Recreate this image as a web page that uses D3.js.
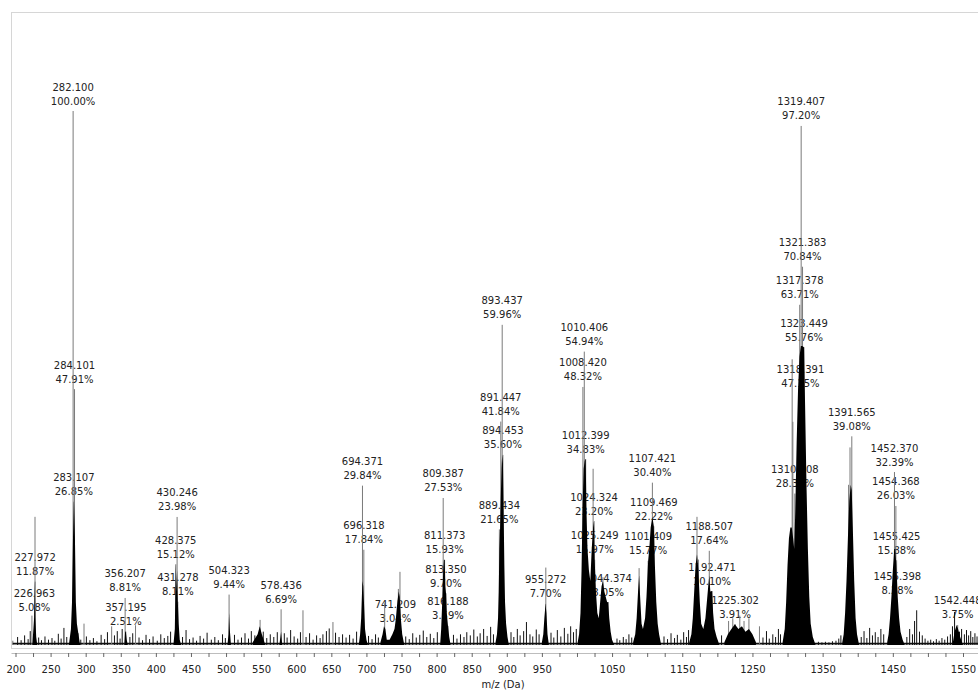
<html lang="en">
<head>
  <meta charset="UTF-8">
  <title>Mass spectrum</title>
  <script src="https://d3js.org/d3.v7.min.js"></script>
</head>
<style>
  body { margin: 0; background: #fff; }
  text { font-family: "DejaVu Sans", Verdana, sans-serif; font-size: 10px; fill: #222; }
  .tick line { stroke: #666; }
</style>
<body>
  <svg class="spectrum" width="978" height="693"></svg>
  <script>
    // labelled peaks: m/z text and relative intensity (%)
    const labelMz = ['226.963', '227.972', '282.100', '283.107', '284.101', '356.207', '357.195',
      '428.375', '430.246', '431.278', '504.323', '578.436', '694.371', '696.318', '741.209',
      '809.387', '811.373', '813.350', '816.188', '889.434', '891.447', '893.437', '894.453',
      '955.272', '1008.420', '1010.406', '1012.399', '1024.324', '1025.249', '1044.374',
      '1101.409', '1107.421', '1109.469', '1188.507', '1192.471', '1225.302', '1310.408',
      '1317.378', '1318.391', '1319.407', '1321.383', '1323.449', '1391.565', '1452.370',
      '1454.368', '1455.425', '1456.398', '1542.448'];
    const labelPct = [5.08, 11.87, 100.00, 26.85, 47.91, 8.81, 2.51,
      15.12, 23.98, 8.11, 9.44, 6.69, 29.84, 17.84, 3.04,
      27.53, 15.93, 9.70, 3.59, 21.65, 41.84, 59.96, 35.60,
      7.70, 48.32, 54.94, 34.83, 23.20, 15.97, 8.05,
      15.77, 30.40, 22.22, 17.64, 10.10, 3.91, 28.36,
      63.71, 47.15, 97.20, 70.84, 55.76, 39.08, 32.39,
      26.03, 15.88, 8.28, 3.75];

    // unlabelled thin spikes [m/z, %]
    const spikes = [[223.4, 5.5], [227.8, 24], [297.6, 4], [337, 3.5], [371, 3.7], [548.5, 4.7],
      [609.6, 6.5], [652.3, 4.3], [726, 7.8], [745.5, 10.5], [747.8, 13.7], [955.6, 14.5],
      [1023, 33], [1037, 12.7], [1088.5, 14.4], [1105, 20], [1171, 24], [1173, 16],
      [1216, 4.5], [1222, 5], [1232, 5.5], [1238, 4.5], [1245, 5], [1260, 3.5],
      [1306.6, 53.5], [1307.6, 41.8], [1387, 30], [1389, 37]];

    // dense isotope clusters, envelope points [m/z, %]
    const clusters = [
      [[224, 0], [225.5, 3], [226.5, 5], [227.5, 11.8], [228.3, 5], [229.5, 1.5], [231, 0]],
      [[276, 0], [279, 3], [280.5, 8], [281.9, 20], [283.3, 26.85], [284.7, 20], [286, 8], [287.5, 4], [290.3, 1.5], [292, 0]],
      [[355, 0], [356.2, 2.5], [357.2, 2.51], [358.5, 1], [360, 0]],
      [[425, 0], [427, 3], [428.4, 15.12], [429.5, 10], [430.2, 14], [431.3, 8.11], [432.5, 4], [434, 1], [436, 0]],
      [[502, 0], [503.5, 2], [504.3, 6], [505.3, 3], [507, 0]],
      [[538, 0.5], [545, 2], [548, 3.5], [551, 2], [556, 0]],
      [[576, 0], [578.4, 2.5], [580, 0]],
      [[689, 0], [691, 2], [692.5, 5], [693.5, 9], [694.3, 12], [695.5, 11], [696.5, 8], [698, 3], [700, 1], [702, 0]],
      [[720, 0.5], [723, 2], [725, 3.5], [727, 3], [729, 1], [733, 1], [737, 2], [740, 3], [742, 5], [744, 8], [746, 10], [747.5, 9], [749, 5], [751, 2], [754, 0]],
      [[805, 0], [806.5, 3], [808, 8], [809.4, 14], [810.5, 16], [811.5, 15.93], [812.5, 11], [813.4, 9.7], [814.5, 6], [816.2, 3.59], [818, 1.5], [820, 0]],
      [[884, 0.5], [886, 2], [887.5, 5], [888.5, 10], [889.4, 18], [890.5, 22], [891.5, 28], [892.5, 33], [893.4, 35.6], [894.5, 34], [895.5, 25], [896.5, 15], [897.5, 8], [899, 4], [901, 1.5], [903, 0]],
      [[950, 0.5], [952, 2], [953.5, 5], [955.2, 7.7], [956.5, 6], [958, 2], [960, 0]],
      [[1001, 0.5], [1003, 2], [1005, 6], [1006.5, 14], [1008, 26], [1009.5, 33], [1011, 34.5], [1012.4, 34.83], [1013.5, 25], [1015, 18], [1017, 14], [1019, 12], [1021, 18], [1023, 22], [1024.3, 23.2], [1025.2, 16], [1027, 10], [1029, 6], [1031, 5], [1033, 8], [1035, 11], [1037, 12], [1039, 10], [1041, 9], [1043, 8], [1044.4, 8.05], [1046, 5], [1048, 2.5], [1050, 1], [1053, 0]],
      [[1080, 0.5], [1083, 2], [1085, 5], [1087, 10], [1088.5, 13], [1090, 9], [1092, 4], [1094, 3], [1097, 5], [1099, 9], [1101.4, 15.77], [1103, 18], [1105, 22], [1107.4, 24], [1109.5, 22.22], [1111, 15], [1113, 8], [1115, 4], [1117, 2], [1120, 0]],
      [[1160, 0.5], [1163, 2], [1165, 5], [1167, 10], [1169, 15], [1171, 17], [1173, 14], [1175, 8], [1177, 4], [1180, 3], [1183, 5], [1185, 8], [1187, 11], [1188.5, 13], [1190, 10], [1192.5, 10.1], [1194, 6], [1196, 3], [1199, 1.5], [1203, 0]],
      [[1210, 0.5], [1215, 2], [1220, 3], [1225, 3.9], [1230, 3], [1235, 3.5], [1240, 2.5], [1245, 3], [1250, 2], [1255, 0.5]],
      [[1293, 0.5], [1296, 3], [1298, 8], [1300, 15], [1302, 20], [1304, 22], [1306, 22], [1308, 20], [1309.5, 18], [1311, 25], [1313, 38], [1315, 48], [1317, 54], [1319, 56], [1321, 56], [1323.4, 55.76], [1325, 45], [1327, 30], [1329, 18], [1331, 9], [1333, 4], [1336, 1.5], [1340, 0]],
      [[1378, 0.5], [1380, 2], [1382, 6], [1384, 12], [1386, 20], [1388, 27], [1390, 30], [1391.5, 29], [1393, 22], [1395, 12], [1397, 5], [1399, 2], [1402, 0]],
      [[1442, 0.5], [1444, 2], [1446, 5], [1448, 9], [1450, 14], [1452, 18], [1453.5, 18], [1455, 15], [1457, 9], [1459, 5], [1461, 2.5], [1464, 1], [1467, 0]],
      [[1535, 0], [1538, 2.5], [1541, 3.75], [1543, 3], [1546, 1.5], [1550, 0]]
    ];

    // baseline noise sticks [m/z, %]
    const noise = [[190, 1.2], [196, 0.8], [203, 1.5], [208, 0.9], [213, 1.8], [218, 1.1], [221, 2.6], [233, 1.4],
      [237, 0.9], [242, 1.6], [247, 1.0], [252, 1.3], [256, 0.8], [261, 2.1], [265, 1.2], [269, 3.2], [273, 1.5],
      [289, 2.2], [293, 1.0], [301, 1.6], [306, 0.9], [311, 1.3], [316, 0.7], [322, 1.9], [327, 1.1], [331, 2.4],
      [341, 1.8], [345, 2.6], [349, 1.2], [352, 3.0], [363, 1.5], [367, 2.2], [376, 1.4], [381, 0.9], [386, 1.9],
      [391, 1.1], [396, 1.6], [402, 0.8], [407, 2.0], [412, 1.3], [417, 1.7], [421, 2.5], [438, 1.5], [443, 2.8],
      [448, 1.1], [453, 1.4], [458, 0.8], [463, 1.7], [468, 1.2], [473, 2.3], [479, 1.0], [484, 1.5], [489, 0.9],
      [495, 2.0], [499, 1.3], [512, 1.9], [517, 1.0], [522, 1.4], [527, 2.2], [532, 1.2], [536, 2.6], [541, 1.8],
      [553, 2.5], [558, 1.3], [563, 2.0], [568, 1.5], [573, 2.4], [583, 2.2], [587, 1.4], [592, 2.8], [597, 1.6],
      [602, 1.2], [606, 2.4], [614, 1.5], [619, 2.2], [624, 1.0], [629, 1.8], [634, 1.3], [638, 2.0], [643, 2.6],
      [647, 3.1], [656, 2.3], [661, 1.5], [666, 2.0], [671, 1.4], [676, 1.9], [681, 1.2], [686, 2.5], [703, 1.7],
      [708, 1.1], [713, 2.0], [717, 1.4], [756, 1.6], [761, 1.1], [766, 2.2], [771, 1.4], [776, 1.9], [781, 2.7],
      [786, 1.5], [791, 2.1], [796, 1.3], [801, 2.4], [824, 1.9], [829, 1.2], [834, 2.0], [839, 1.5], [843, 2.4],
      [848, 1.8], [853, 2.9], [858, 1.6], [862, 2.2], [867, 3.0], [872, 1.7], [877, 3.4], [881, 2.0], [906, 2.4],
      [910, 1.5], [915, 3.0], [919, 1.8], [924, 2.6], [928, 4.3], [933, 2.0], [937, 1.6], [942, 2.9], [946, 2.0],
      [963, 2.3], [967, 1.4], [972, 2.8], [977, 1.6], [982, 3.2], [987, 2.1], [991, 3.5], [995, 2.4], [999, 3.0],
      [1057, 1.2], [1061, 0.9], [1066, 1.5], [1070, 1.1], [1074, 2.0], [1078, 1.4], [1124, 1.6], [1129, 1.1],
      [1134, 2.2], [1139, 1.3], [1143, 1.9], [1148, 1.0], [1152, 2.4], [1156, 1.5], [1159, 2.8], [1206, 1.8],
      [1265, 1.4], [1270, 2.6], [1274, 1.2], [1279, 2.0], [1283, 1.5], [1287, 3.0], [1290, 2.0], [1344, 0.6],
      [1349, 0.5], [1354, 0.6], [1359, 0.5], [1364, 0.7], [1369, 0.8], [1373, 1.2], [1376, 1.8], [1405, 1.5],
      [1409, 2.6], [1413, 1.3], [1417, 3.2], [1421, 1.8], [1425, 2.4], [1429, 1.5], [1433, 3.0], [1437, 2.0],
      [1470, 1.5], [1474, 3.0], [1478, 2.0], [1481, 4.5], [1484, 6.5], [1488, 2.5], [1492, 1.8], [1496, 1.2],
      [1500, 0.8], [1504, 1.0], [1508, 0.7], [1512, 1.1], [1516, 0.8], [1520, 1.3], [1524, 1.0], [1528, 1.6],
      [1532, 2.0], [1535, 3.5], [1538, 6.2], [1545, 2.5], [1548, 3.0], [1552, 2.0], [1555, 2.8], [1558, 1.8],
      [1561, 2.6], [1564, 1.5], [1567, 2.2], [1570, 1.6]];

    const tickLabels = [200, 250, 300, 350, 400, 450, 500, 550, 600, 650, 700, 750, 800, 850, 900, 950,
      1050, 1150, 1250, 1350, 1450, 1550];
    const tickMarks = d3.range(200, 1576, 25);

    const svg = d3.select('svg.spectrum');
    const frame = { left: 11.5, top: 12.5, right: 990, bottom: 648.5 };

    const x = d3.scaleLinear().domain([200, 1550]).range([15.5, 963]);
    const y = d3.scaleLinear().domain([0, 100]).range([645, 111]);

    // plot frame
    svg.append('rect')
      .attr('x', frame.left).attr('y', frame.top)
      .attr('width', frame.right - frame.left).attr('height', frame.bottom - frame.top)
      .attr('fill', 'none').attr('stroke', '#d6d6d6');

    svg.append('defs').append('clipPath').attr('id', 'plotclip')
      .append('rect').attr('x', frame.left + 1).attr('y', frame.top)
      .attr('width', 978 - frame.left).attr('height', frame.bottom - frame.top);

    const plot = svg.append('g').attr('clip-path', 'url(#plotclip)');

    // peak labels go under the sticks (sticks cut through them like in the original)
    const labels = plot.append('g');
    labelMz.forEach((m, i) => {
      const px = x(+m), py = y(labelPct[i]);
      const t = labels.append('text').attr('text-anchor', 'middle');
      t.append('tspan').attr('x', px).attr('y', py - 20.5).text(m);
      t.append('tspan').attr('x', px).attr('y', py - 6.5).text(labelPct[i].toFixed(2) + '%');
    });

    // noise floor
    plot.append('line')
      .attr('x1', frame.left + 1).attr('x2', 978)
      .attr('y1', y(0.25)).attr('y2', y(0.25))
      .attr('stroke', '#111').attr('stroke-width', 1.6);

    plot.selectAll('line.noise').data(noise).join('line')
      .attr('class', 'noise')
      .attr('x1', d => x(d[0])).attr('x2', d => x(d[0]))
      .attr('y1', y(0)).attr('y2', d => y(d[1]))
      .attr('stroke', '#111').attr('stroke-width', 1);

    // thin spikes (labelled and not)
    const allSpikes = spikes.concat(labelMz.map((m, i) => [+m, labelPct[i]]));
    plot.selectAll('line.spike').data(allSpikes).join('line')
      .attr('class', 'spike')
      .attr('x1', d => x(d[0])).attr('x2', d => x(d[0]))
      .attr('y1', y(0)).attr('y2', d => y(d[1]))
      .attr('stroke', '#7a7a7a').attr('stroke-width', 1);

    // dense clusters
    const area = d3.area()
      .x(d => x(d[0]))
      .y0(y(0))
      .y1(d => y(d[1]));
    plot.selectAll('path.cluster').data(clusters).join('path')
      .attr('class', 'cluster')
      .attr('d', area)
      .attr('fill', '#000');

    // x axis
    const axisY = 653;
    svg.append('line')
      .attr('x1', frame.left).attr('x2', 978)
      .attr('y1', axisY + 0.5).attr('y2', axisY + 0.5)
      .attr('stroke', '#bdbdbd');

    const tickAxis = d3.axisBottom(x).tickValues(tickMarks).tickSize(4).tickFormat('');
    const g1 = svg.append('g').attr('transform', `translate(0,${axisY})`).call(tickAxis);
    g1.select('.domain').remove();

    const labelAxis = d3.axisBottom(x).tickValues(tickLabels).tickSize(0).tickPadding(13)
      .tickFormat(d3.format('d'));
    const g2 = svg.append('g').attr('transform', `translate(0,${axisY})`).call(labelAxis);
    g2.select('.domain').remove();
    g2.selectAll('text').style('font-size', '10px').style('font-family', '"DejaVu Sans", Verdana, sans-serif').attr('fill', '#222');

    svg.append('text')
      .attr('x', 503).attr('y', 688)
      .attr('text-anchor', 'middle')
      .text('m/z (Da)');
  </script>
</body>
</html>
